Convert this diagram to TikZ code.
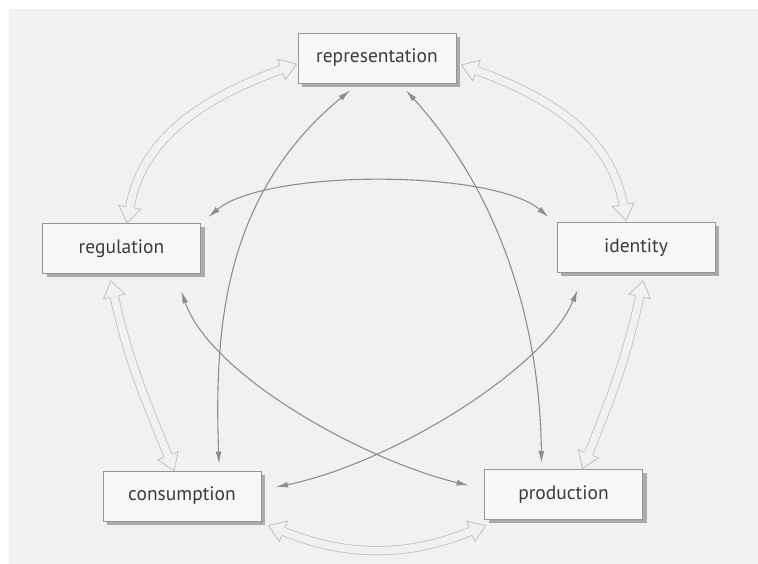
\documentclass[tikz,border=0pt]{standalone}
\usepackage{fontspec}
\setmainfont{PT Sans}
\usetikzlibrary{arrows.meta,calc,decorations.markings,shadows}

\definecolor{bgc}{HTML}{F1F1F1}
\definecolor{boxf}{HTML}{F7F7F7}
\definecolor{boxc}{HTML}{959595}
\definecolor{shadc}{HTML}{ABABAB}
\definecolor{txtc}{HTML}{3C3C3C}
\definecolor{linkc}{HTML}{8E8E8E}
\definecolor{hollc}{HTML}{C0C0C0}

% open arrow head for the wide outlined arrows
\newcommand\hollowtip{%
  \fill[bgc] (0pt,0pt) -- (-16pt,11pt) -- (-16pt,-11pt) -- cycle;
  \draw[hollc, line width=0.8pt, line join=miter]
    (-16pt,4.6pt) -- (-16pt,11pt) -- (0pt,0pt) -- (-16pt,-11pt) -- (-16pt,-4.6pt);}

% wide outlined two-headed arrow along a path
\newcommand\hollowlink[1]{%
  \draw[hshaft] #1;
  \path[htips] #1;}

\tikzset{
  box/.style={draw=boxc, line width=0.8pt, fill=boxf,
    minimum width=158pt, minimum height=50pt, inner sep=0pt,
    font=\fontsize{19.5}{22}\selectfont, text=txtc,
    drop shadow={shadow xshift=4pt, shadow yshift=-4pt, fill=shadc, opacity=1}},
  link/.style={draw=linkc, line width=1.1pt,
    {Latex[length=12pt,width=6pt]}-{Latex[length=12pt,width=6pt]}},
  hshaft/.style={draw=hollc, line width=0.8pt, double=bgc, double distance=7.6pt,
    shorten <=16pt, shorten >=16pt},
  htips/.style={decorate, decoration={markings,
    mark=at position 0.0001 with {\begin{scope}[rotate=180]\hollowtip\end{scope}},
    mark=at position 0.9999 with {\hollowtip}}}
}

\begin{document}
\begin{tikzpicture}[x=1pt,y=1pt]
  \useasboundingbox (0,0) rectangle (758,564);
  \fill[white] (0,0) rectangle (758,564);
  \fill[bgc] (9,0) rectangle (758,555);

  % the five stages
  \node[box] (rep) at (377,506)   {representation};
  \node[box] (reg) at (121.5,315.5) {regulation};
  \node[box] (ide) at (636,316.5)   {identity};
  \node[box] (con) at (182,68)      {consumption};
  \node[box] (pro) at (563.5,69.5)  {production};

  % outer ring of wide outlined arrows
  \hollowlink{($(reg.north)+(5.5,0)$) to[out=80,in=200] ($(rep.west)+(-1,-6)$)}
  \hollowlink{($(ide.north)+(-10,1.5)$) to[out=100,in=-20] ($(rep.east)+(5,-7)$)}
  \hollowlink{($(pro.north)+(19,0.5)$) to[out=68,in=-102] ($(ide.south)+(7,-8)$)}
  \hollowlink{($(con.north)+(-8,0)$) to[out=112,in=-78] ($(reg.south)+(-10.5,-7)$)}
  \hollowlink{($(con.south east)+(7,-4)$) to[out=-22,in=202] ($(pro.south west)+(1.5,-5.5)$)}

  % inner cross links
  \draw[link] ($(rep.south)+(-27,-7)$) .. controls (225,370) and (214,240) .. ($(con.north)+(37,7)$);
  \draw[link] ($(rep.south)+(29,-7)$) .. controls (500,370) and (540,240) .. ($(pro.north)+(-22,6)$);
  \draw[link] ($(reg.north east)+(7.5,6)$) .. controls (265,395) and (492,395) .. ($(ide.north west)+(-8,5)$);
  \draw[link] ($(reg.south east)+(-19.5,-17.5)$) .. controls (210,190) and (360,105) .. ($(pro.west)+(-15.5,9)$);
  \draw[link] ($(ide.south west)+(21,-17)$) .. controls (545,195) and (390,100) .. ($(con.east)+(14.6,9)$);
\end{tikzpicture}
\end{document}
